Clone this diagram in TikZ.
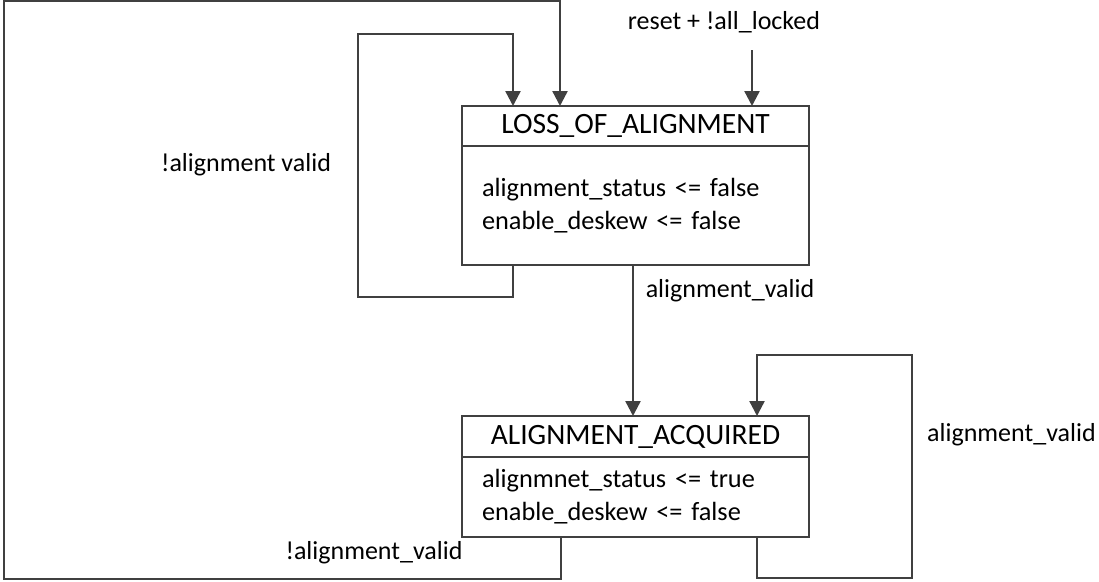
\documentclass[tikz,border=0pt]{standalone}
\usepackage{fontspec}
\setmainfont{Carlito}
\usepackage{tikz}
\usetikzlibrary{arrows.meta, positioning, calc}
\definecolor{mygrey}{RGB}{64,64,64}
\tikzset{
  statehead/.style={rectangle, draw=mygrey, fill=white, line width=2.4pt,
    outer sep=0pt, inner sep=0pt, minimum width=347pt, minimum height=40pt,
    font=\fontsize{29.5}{33}\selectfont},
  statebody/.style={rectangle, draw=mygrey, fill=white, line width=2.4pt,
    outer sep=0pt, text width=307pt, inner xsep=20pt, inner ysep=0pt,
    align=left, font=\fontsize{26.3}{33}\selectfont},
  trans/.style={-{Triangle[length=15pt,width=15pt]}, line width=2.4pt, color=mygrey},
  lbl/.style={font=\fontsize{26}{31}\selectfont, inner sep=0pt}
}
\begin{document}
\begin{tikzpicture}[x=1pt, y=-1pt]
  \useasboundingbox (0,0) rectangle (1099,581);

  % States
  \node[statehead] (loss) at (635.5,126) {LOSS\_OF\_ALIGNMENT};
  \node[statebody, minimum height=119pt, below=0pt of loss] (lossbody)
    {alignment\_status <= false\\enable\_deskew <= false};
  \node[statehead, minimum height=41pt] (acq) at (635.5,436.5) {ALIGNMENT\_ACQUIRED};
  \node[statebody, minimum height=80pt, below=0pt of acq] (acqbody)
    {alignmnet\_status <= true\\enable\_deskew <= false};

  % Labels
  \node[lbl] (rstlbl) at (724,22) {reset + !all\_locked};
  \node[lbl] (notvalidA) at (246,165) {!alignment valid};
  \node[lbl] (validA) at (730,291) {alignment\_valid};
  \node[lbl, anchor=west] (validB) at (927,435) {alignment\_valid};
  \node[lbl] (notvalidB) at (374,553) {!alignment\_valid};

  % Loop corners
  \coordinate (rst) at (752,50);
  \coordinate (lpA) at (358,297);
  \coordinate (lpB) at (358,34);
  \coordinate (outA) at (4,579);
  \coordinate (outB) at (4,1);
  \coordinate (acA) at (912,578);
  \coordinate (acB) at (912,355);

  % Transitions
  \draw[trans] (rst) -- (rst |- loss.north);
  \draw[trans] ([xshift=51pt]lossbody.south west) |- (lpA) -- (lpB)
    -| ([xshift=51pt]loss.north west);
  \draw[trans] ([xshift=171pt]lossbody.south west) -- ([xshift=171pt]acq.north west);
  \draw[trans] ([xshift=295pt]acqbody.south west) |- (acA) -- (acB)
    -| ([xshift=295pt]acq.north west);
  \draw[trans] ([xshift=99pt]acqbody.south west) |- (outA) -- (outB)
    -| ([xshift=98pt]loss.north west);
\end{tikzpicture}
\end{document}
